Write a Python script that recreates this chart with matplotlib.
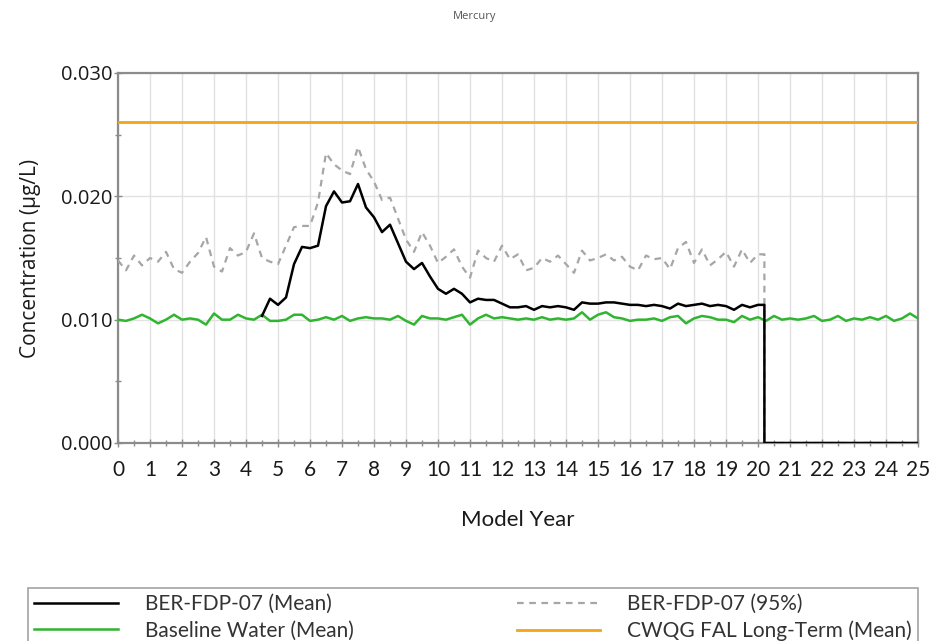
import numpy as np
import matplotlib
matplotlib.use("Agg")
import matplotlib.pyplot as plt
from matplotlib.ticker import MultipleLocator, FormatStrFormatter

# model time grid (years), quarterly
years = np.arange(0, 25.01, 0.25)

# baseline water, mean (ug/L)
baseline = [0.0100, 0.0099, 0.0101, 0.0104, 0.0101, 0.0097, 0.0100, 0.0104, 0.0100, 0.0101,
            0.0100, 0.0096, 0.0105, 0.0100, 0.0100, 0.0104, 0.0101, 0.0100, 0.0104, 0.0099,
            0.0099, 0.0100, 0.0104, 0.0104, 0.0099, 0.0100, 0.0102, 0.0100, 0.0103, 0.0099,
            0.0101, 0.0102, 0.0101, 0.0101, 0.0100, 0.0103, 0.0099, 0.0096, 0.0103, 0.0101,
            0.0101, 0.0100, 0.0102, 0.0104, 0.0096, 0.0101, 0.0104, 0.0101, 0.0102, 0.0101,
            0.0100, 0.0101, 0.0100, 0.0102, 0.0100, 0.0101, 0.0100, 0.0101, 0.0106, 0.0100,
            0.0104, 0.0106, 0.0102, 0.0101, 0.0099, 0.0100, 0.0100, 0.0101, 0.0099, 0.0102,
            0.0103, 0.0097, 0.0101, 0.0103, 0.0102, 0.0100, 0.0100, 0.0098, 0.0103, 0.0100,
            0.0102, 0.0099, 0.0103, 0.0100, 0.0101, 0.0100, 0.0101, 0.0103, 0.0099, 0.0100,
            0.0103, 0.0099, 0.0101, 0.0100, 0.0102, 0.0100, 0.0103, 0.0099, 0.0101, 0.0105,
            0.0101]

# BER-FDP-07 results up to closure (years 0-20, quarterly)
site_years = np.arange(0, 20.01, 0.25)
closure_year = 20.2

p95 = [0.0148, 0.0140, 0.0152, 0.0144, 0.0150, 0.0147, 0.0155, 0.0141, 0.0138, 0.0147,
       0.0154, 0.0167, 0.0143, 0.0139, 0.0158, 0.0152, 0.0155, 0.0170, 0.0150, 0.0147,
       0.0145, 0.0160, 0.0175, 0.0176, 0.0176, 0.0195, 0.0235, 0.0226, 0.0221, 0.0218,
       0.0240, 0.0222, 0.0212, 0.0197, 0.0199, 0.0182, 0.0165, 0.0155, 0.0171, 0.0160,
       0.0146, 0.0151, 0.0157, 0.0143, 0.0134, 0.0156, 0.0150, 0.0147, 0.0160, 0.0149,
       0.0153, 0.0140, 0.0142, 0.0150, 0.0147, 0.0152, 0.0145, 0.0138, 0.0156, 0.0148,
       0.0150, 0.0153, 0.0148, 0.0151, 0.0143, 0.0140, 0.0152, 0.0149, 0.0150, 0.0141,
       0.0158, 0.0163, 0.0146, 0.0157, 0.0144, 0.0149, 0.0155, 0.0143, 0.0157, 0.0146,
       0.0153]

nan = np.nan
mean = [nan, nan, nan, nan, nan, nan, nan, nan, nan, nan,
        nan, nan, nan, nan, nan, nan, nan, nan, 0.0103, 0.0117,
        0.0112, 0.0118, 0.0145, 0.0159, 0.0158, 0.0160, 0.0192, 0.0204, 0.0195, 0.0196,
        0.0210, 0.0191, 0.0183, 0.0171, 0.0177, 0.0162, 0.0147, 0.0141, 0.0146, 0.0135,
        0.0125, 0.0121, 0.0125, 0.0121, 0.0114, 0.0117, 0.0116, 0.0116, 0.0113, 0.0110,
        0.0110, 0.0111, 0.0108, 0.0111, 0.0110, 0.0111, 0.0110, 0.0108, 0.0114, 0.0113,
        0.0113, 0.0114, 0.0114, 0.0113, 0.0112, 0.0112, 0.0111, 0.0112, 0.0111, 0.0109,
        0.0113, 0.0111, 0.0112, 0.0113, 0.0111, 0.0112, 0.0111, 0.0108, 0.0112, 0.0110,
        0.0112]

cwqg_limit = 0.026

# after closure both site series fall to zero
x_site = np.r_[site_years, closure_year, closure_year, 25]
y_mean = np.r_[mean, mean[-1], 0, 0]
y_p95 = np.r_[p95, p95[-1], 0, 0]

narrow = ["Lato", "DejaVu Sans"]
sans = ["Open Sans", "DejaVu Sans"]

fig = plt.figure(figsize=(9.31, 6.41), dpi=100)
ax = fig.add_axes([118 / 931, 1 - 443 / 641, 800 / 931, 370 / 641])

ax.axhline(cwqg_limit, color="#f2a516", lw=2, zorder=3)
ax.plot(x_site, y_p95, color="#a6a6a6", lw=1.6, ls=(0, (3, 2.5)), zorder=4)
ax.plot(years, baseline, color="#2fb52f", lw=1.8, zorder=5)
ax.plot(x_site, y_mean, color="black", lw=1.8, zorder=6)

ax.set_xlim(0, 25)
ax.set_ylim(0, 0.030)
ax.xaxis.set_major_locator(MultipleLocator(1))
ax.xaxis.set_minor_locator(MultipleLocator(0.5))
ax.yaxis.set_major_locator(MultipleLocator(0.010))
ax.yaxis.set_minor_locator(MultipleLocator(0.005))
ax.yaxis.set_major_formatter(FormatStrFormatter("%.3f"))

ax.grid(True, which="major", color="#e2e2e2", lw=1)
ax.set_axisbelow(True)
for s in ax.spines.values():
    s.set_color("#8c8c8c")
    s.set_linewidth(1.6)

ax.tick_params(which="both", direction="inout", color="#8c8c8c", width=1)
ax.tick_params(which="major", length=6)
ax.tick_params(which="minor", length=4)
ax.tick_params(axis="x", pad=9)
ax.tick_params(axis="y", pad=1)
for lbl in ax.get_xticklabels():
    lbl.set_family(narrow)
    lbl.set_fontsize(15)
    lbl.set_color("#1a1a1a")
for lbl in ax.get_yticklabels():
    lbl.set_family(sans)
    lbl.set_fontsize(14.5)
    lbl.set_color("#1a1a1a")

ax.set_xlabel("Model Year", family=narrow, fontsize=16, color="#1a1a1a", labelpad=22)
ax.set_ylabel("Concentration (µg/L)", family=sans, fontsize=15, color="#1a1a1a", labelpad=14)
fig.text(0.51, 1 - 17 / 641, "Mercury", ha="center", va="center",
         family=sans, fontsize=8, color="#555555")

# legend: two columns along the bottom edge
handles = [
    plt.Line2D([], [], color="black", lw=1.8),
    plt.Line2D([], [], color="#2fb52f", lw=1.8),
    plt.Line2D([], [], color="#a6a6a6", lw=1.6, ls=(0, (3, 2.5))),
    plt.Line2D([], [], color="#f2a516", lw=2),
]
labels = ["BER-FDP-07 (Mean)", "Baseline Water (Mean)",
          "BER-FDP-07 (95%)", "CWQG FAL Long-Term (Mean)"]
leg = fig.legend(handles, labels, loc="upper left", ncol=2, mode="expand",
                 bbox_to_anchor=(28 / 931, 1 - 588 / 641, 890 / 931, 0.0),
                 borderaxespad=0, borderpad=0.3, handlelength=4.0,
                 handletextpad=1.3, labelspacing=0.3, fancybox=False,
                 prop={"family": narrow, "size": 15})
leg.get_frame().set_edgecolor("#8c8c8c")
leg.get_frame().set_linewidth(1.2)
for t in leg.get_texts():
    t.set_color("#333333")

fig.savefig("out.png", dpi=100)
